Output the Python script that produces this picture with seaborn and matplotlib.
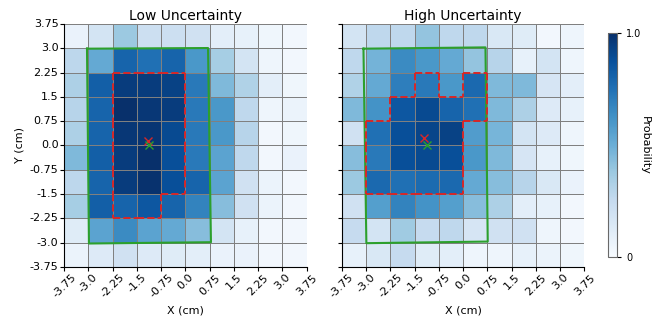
import numpy as np
import seaborn as sns
import matplotlib
matplotlib.use('Agg')
import matplotlib.pyplot as plt

edges = [-3.75, -3.0, -2.25, -1.5, -0.75, 0.0, 0.75, 1.5, 2.25, 3.0, 3.75]
tick_labels = ['-3.75', '-3.0', '-2.25', '-1.5', '-0.75', '0.0', '0.75', '1.5', '2.25', '3.0', '3.75']

# probabilities, rows from y=3.75 (top) down to y=-3.75
low_prob = [
    [0.07, 0.18, 0.38, 0.22, 0.22, 0.20, 0.10, 0.08, 0.04, 0.03],
    [0.28, 0.52, 0.80, 0.75, 0.80, 0.60, 0.35, 0.18, 0.05, 0.03],
    [0.33, 0.82, 0.95, 0.95, 0.93, 0.72, 0.45, 0.32, 0.10, 0.04],
    [0.30, 0.80, 1.00, 0.97, 0.95, 0.72, 0.60, 0.27, 0.05, 0.06],
    [0.33, 0.80, 0.97, 0.98, 0.90, 0.72, 0.60, 0.30, 0.03, 0.04],
    [0.45, 0.82, 0.95, 1.00, 0.88, 0.72, 0.55, 0.27, 0.03, 0.07],
    [0.28, 0.80, 0.95, 0.99, 0.88, 0.80, 0.55, 0.20, 0.06, 0.03],
    [0.35, 0.82, 0.80, 0.85, 0.80, 0.68, 0.43, 0.20, 0.06, 0.03],
    [0.12, 0.55, 0.65, 0.55, 0.52, 0.43, 0.18, 0.08, 0.03, 0.03],
    [0.06, 0.13, 0.20, 0.13, 0.12, 0.10, 0.07, 0.07, 0.03, 0.03],
]
high_prob = [
    [0.18, 0.27, 0.27, 0.40, 0.27, 0.27, 0.15, 0.12, 0.03, 0.05],
    [0.27, 0.48, 0.65, 0.60, 0.52, 0.40, 0.30, 0.08, 0.18, 0.05],
    [0.32, 0.52, 0.70, 0.72, 0.60, 0.78, 0.45, 0.45, 0.17, 0.10],
    [0.45, 0.62, 0.85, 0.90, 0.80, 0.75, 0.45, 0.33, 0.13, 0.08],
    [0.20, 0.75, 0.88, 0.92, 0.93, 0.58, 0.47, 0.18, 0.13, 0.05],
    [0.43, 0.72, 0.88, 0.90, 0.88, 0.60, 0.45, 0.17, 0.08, 0.04],
    [0.38, 0.78, 0.75, 0.77, 0.78, 0.52, 0.43, 0.30, 0.15, 0.07],
    [0.20, 0.57, 0.68, 0.62, 0.57, 0.43, 0.33, 0.10, 0.08, 0.03],
    [0.25, 0.18, 0.37, 0.25, 0.27, 0.17, 0.20, 0.20, 0.05, 0.03],
    [0.08, 0.15, 0.25, 0.12, 0.10, 0.05, 0.05, 0.08, 0.06, 0.04],
]

# predicted region cells (1 = inside), same row order
low_region = [
    [0, 0, 0, 0, 0, 0, 0, 0, 0, 0],
    [0, 0, 0, 0, 0, 0, 0, 0, 0, 0],
    [0, 0, 1, 1, 1, 0, 0, 0, 0, 0],
    [0, 0, 1, 1, 1, 0, 0, 0, 0, 0],
    [0, 0, 1, 1, 1, 0, 0, 0, 0, 0],
    [0, 0, 1, 1, 1, 0, 0, 0, 0, 0],
    [0, 0, 1, 1, 1, 0, 0, 0, 0, 0],
    [0, 0, 1, 1, 0, 0, 0, 0, 0, 0],
    [0, 0, 0, 0, 0, 0, 0, 0, 0, 0],
    [0, 0, 0, 0, 0, 0, 0, 0, 0, 0],
]
high_region = [
    [0, 0, 0, 0, 0, 0, 0, 0, 0, 0],
    [0, 0, 0, 0, 0, 0, 0, 0, 0, 0],
    [0, 0, 0, 1, 0, 1, 0, 0, 0, 0],
    [0, 0, 1, 1, 1, 1, 0, 0, 0, 0],
    [0, 1, 1, 1, 1, 0, 0, 0, 0, 0],
    [0, 1, 1, 1, 1, 0, 0, 0, 0, 0],
    [0, 1, 1, 1, 1, 0, 0, 0, 0, 0],
    [0, 0, 0, 0, 0, 0, 0, 0, 0, 0],
    [0, 0, 0, 0, 0, 0, 0, 0, 0, 0],
    [0, 0, 0, 0, 0, 0, 0, 0, 0, 0],
]

# true object outline (cm)
low_obj_x = [-3.04, 0.70, 0.79, -2.98]
low_obj_y = [2.99, 3.01, -2.99, -3.03]
high_obj_x = [-3.08, 0.69, 0.76, -2.99]
high_obj_y = [2.99, 3.03, -2.97, -3.02]

# estimated (red) and true (green) centres
low_est = (-1.17, 0.14)
low_true = (-1.13, 0.01)
high_est = (-1.21, 0.23)
high_true = (-1.13, 0.0)


def to_cell(x, y):
    # cm -> heatmap cell coordinates
    return (np.asarray(x) + 3.75) / 0.75, (3.75 - np.asarray(y)) / 0.75


def draw_region(ax, region):
    m = np.array(region)
    n = m.shape[0]
    for r in range(n):
        for c in range(n):
            if not m[r, c]:
                continue
            if r == 0 or not m[r - 1, c]:
                ax.plot([c, c + 1], [r, r], '--', color='tab:red', lw=1.4)
            if r == n - 1 or not m[r + 1, c]:
                ax.plot([c, c + 1], [r + 1, r + 1], '--', color='tab:red', lw=1.4)
            if c == 0 or not m[r, c - 1]:
                ax.plot([c, c], [r, r + 1], '--', color='tab:red', lw=1.4)
            if c == n - 1 or not m[r, c + 1]:
                ax.plot([c + 1, c + 1], [r, r + 1], '--', color='tab:red', lw=1.4)


fig = plt.figure(figsize=(6.56, 3.2), dpi=100)
ax1 = fig.add_axes([0.0976, 0.166, 0.370, 0.759])
ax2 = fig.add_axes([0.521, 0.166, 0.370, 0.759])
cax = fig.add_axes([0.927, 0.197, 0.0137, 0.70])

panels = [
    (ax1, low_prob, low_region, low_obj_x, low_obj_y, low_est, low_true, 'Low Uncertainty'),
    (ax2, high_prob, high_region, high_obj_x, high_obj_y, high_est, high_true, 'High Uncertainty'),
]

for i, (ax, prob, region, ox, oy, est, true, title) in enumerate(panels):
    sns.heatmap(np.array(prob), ax=ax, cmap='Blues', vmin=0, vmax=1,
                linewidths=0.6, linecolor='gray', square=True,
                cbar=(i == 0), cbar_ax=cax if i == 0 else None)
    gx, gy = to_cell(ox + ox[:1], oy + oy[:1])
    ax.plot(gx, gy, color='tab:green', lw=1.5)
    draw_region(ax, region)
    ex, ey = to_cell(est[0], est[1])
    tx, ty = to_cell(true[0], true[1])
    ax.plot(ex, ey, 'x', color='tab:red', ms=6, mew=1)
    ax.plot(tx, ty, 'x', color='tab:green', ms=6, mew=1)
    ax.set_xticks(range(11))
    ax.set_xticklabels(tick_labels, rotation=45, fontsize=8)
    ax.set_yticks(range(11))
    if i == 0:
        ax.set_yticklabels(tick_labels[::-1], rotation=0, fontsize=8)
        ax.set_ylabel('Y (cm)', fontsize=8)
    else:
        ax.set_yticklabels([])
    ax.set_xlim(0, 10)
    ax.set_ylim(10, 0)
    ax.set_xlabel('X (cm)', fontsize=8)
    ax.set_title(title, fontsize=10, pad=3)
    ax.tick_params(length=3, width=0.8, pad=1)
    for s in ['left', 'bottom']:
        ax.spines[s].set_visible(True)
        ax.spines[s].set_color('black')
        ax.spines[s].set_linewidth(0.8)

cb = ax1.collections[0].colorbar
cb.set_ticks([0, 1])
cb.set_ticklabels(['0', '1.0'])
cb.ax.tick_params(labelsize=7, length=3)
cb.outline.set_visible(True)
cb.outline.set_edgecolor('dimgray')
cb.outline.set_linewidth(0.8)
cb.set_label('Probability', rotation=270, labelpad=6, fontsize=8)

fig.savefig('out.png', dpi=100)
